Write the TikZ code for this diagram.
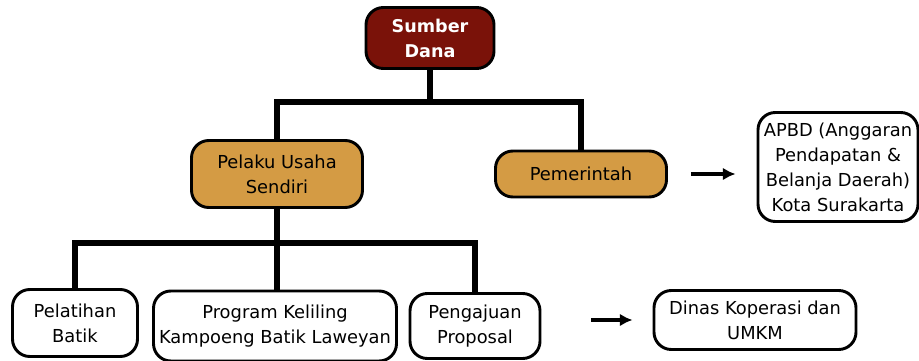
\documentclass[tikz,border=0pt]{standalone}
\usepackage{fontspec}
\setmainfont{DejaVu Sans}
\usetikzlibrary{arrows.meta}
\definecolor{danared}{HTML}{7A1209}
\definecolor{usahagold}{HTML}{D49B44}
\def\px{0.75pt}

\begin{document}
\begin{tikzpicture}[x=\px,y=-\px,
  box/.style={draw=black,line width=2.2pt,rounded corners=13pt,align=center,
              font=\fontsize{13.4}{18.8}\selectfont,inner sep=0pt},
  link/.style={line width=3.8pt},
  pointer/.style={-{Latex[length=9.5pt,width=9.5pt]},line width=2.4pt}]

\useasboundingbox (0,0) rectangle (919,360);

\node[box,fill=danared,text=white,font=\fontsize{13.2}{18.8}\selectfont\bfseries,
      minimum width=128*\px,minimum height=61*\px] (dana) at (430,38) {Sumber\\Dana};

\node[box,fill=usahagold,minimum width=171*\px,minimum height=67*\px] (pelaku) at (277,174) {Pelaku Usaha\\Sendiri};
\node[box,fill=usahagold,minimum width=171*\px,minimum height=46*\px] (pemerintah) at (581,174) {Pemerintah};
\node[box,minimum width=160*\px,minimum height=109*\px] (apbd) at (838,167) {APBD (Anggaran\\Pendapatan \&\\Belanja Daerah)\\Kota Surakarta};

\node[box,minimum width=125*\px,minimum height=67*\px] (pelatihan) at (75,323) {Pelatihan\\Batik};
\node[box,minimum width=243*\px,minimum height=70*\px] (program) at (275,326) {Program Keliling\\Kampoeng Batik Laweyan};
\node[box,minimum width=130*\px,minimum height=65*\px] (pengajuan) at (475,326) {Pengajuan\\Proposal};
\node[box,minimum width=202*\px,minimum height=59*\px] (dinas) at (755,320) {Dinas Koperasi dan\\UMKM};

\coordinate (bus1) at (430,102);
\coordinate (bus2) at (277,243);

\draw[link] (dana.south) -- (bus1);
\draw[link] (pelaku.north) |- (bus1) -| (pemerintah.north);

\draw[link] (pelaku.south) -- (pelaku.south |- program.north);
\draw[link] (pelatihan.north) |- (bus2) -| (pengajuan.north);

\draw[pointer,shorten <=23*\px,shorten >=21*\px] (pemerintah.east) -- (pemerintah.east -| apbd.west);
\draw[pointer,shorten <=50*\px,shorten >=20*\px] (pengajuan.east |- dinas.west) -- (dinas.west);
\end{tikzpicture}
\end{document}
